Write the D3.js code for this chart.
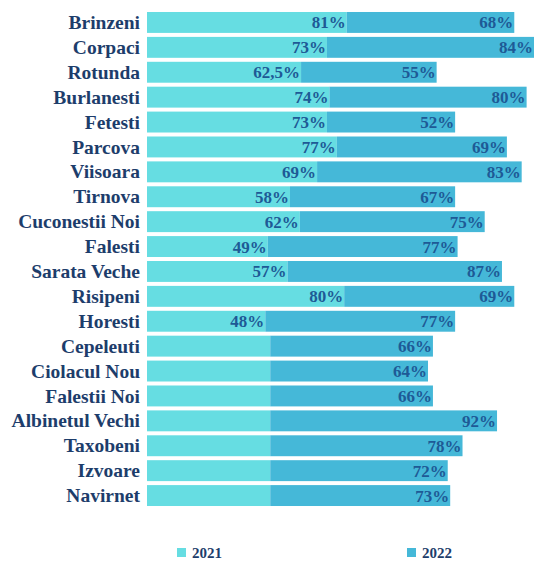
<!DOCTYPE html>
<html>
<head>
<meta charset="utf-8">
<script src="https://cdn.jsdelivr.net/npm/d3@7"></script>
<style>
  body { margin: 0; background: #fff; }
</style>
</head>
<body>
<script>
var villages = ["Brinzeni", "Corpaci", "Rotunda", "Burlanesti", "Fetesti", "Parcova", "Viisoara",
  "Tirnova", "Cuconestii Noi", "Falesti", "Sarata Veche", "Risipeni", "Horesti", "Cepeleuti",
  "Ciolacul Nou", "Falestii Noi", "Albinetul Vechi", "Taxobeni", "Izvoare", "Navirnet"];

// 2021 bar lengths (the last rows have no 2021 figure, the bar is drawn at 50 without a label)
var values2021 = [81, 73, 62.5, 74, 73, 77, 69, 58, 62, 49, 57, 80, 48, 50, 50, 50, 50, 50, 50, 50];
var labels2021 = ["81%", "73%", "62,5%", "74%", "73%", "77%", "69%", "58%", "62%", "49%", "57%",
  "80%", "48%", "", "", "", "", "", "", ""];
var values2022 = [68, 84, 55, 80, 52, 69, 83, 67, 75, 77, 87, 69, 77, 66, 64, 66, 92, 78, 72, 73];
var series = ["2021", "2022"];

var width = 535, height = 562,
    left = 147,
    colors = ["#66dde2", "#45b8d8"],
    serif = "'Liberation Serif'";

var svg = d3.select("body").append("svg")
    .attr("width", width)
    .attr("height", height);

var y = d3.scaleBand()
    .domain(villages)
    .range([10, 508])
    .paddingInner(0.16)
    .paddingOuter(0.08);

var x = d3.scaleLinear()
    .domain([0, 100])
    .range([left, left + 246.5]);

var rows = villages.map(function(v, i) {
  return {name: v, a: values2021[i], b: values2022[i], la: labels2021[i]};
});

var row = svg.selectAll("g.row")
    .data(rows)
    .enter()
    .append("g")
    .attr("class", "row");

row.append("rect")
    .attr("x", x(0))
    .attr("y", function(d) { return y(d.name); })
    .attr("width", function(d) { return x(d.a) - x(0); })
    .attr("height", y.bandwidth())
    .attr("fill", colors[0]);

row.append("rect")
    .attr("x", function(d) { return x(d.a); })
    .attr("y", function(d) { return y(d.name); })
    .attr("width", function(d) { return x(d.a + d.b) - x(d.a); })
    .attr("height", y.bandwidth())
    .attr("fill", colors[1]);

// category names
row.append("text")
    .attr("x", left - 7)
    .attr("y", function(d) { return y(d.name) + y.bandwidth() / 2; })
    .attr("dy", ".34em")
    .attr("text-anchor", "end")
    .style("font-family", serif)
    .style("font-weight", "bold")
    .style("font-size", "19.5px")
    .attr("fill", "#1d3d6b")
    .text(function(d) { return d.name; });

// value labels
row.append("text")
    .attr("x", function(d) { return x(d.a) - 1; })
    .attr("y", function(d) { return y(d.name) + y.bandwidth() / 2; })
    .attr("dy", ".35em")
    .attr("text-anchor", "end")
    .style("font-family", serif)
    .style("font-weight", "bold")
    .style("font-size", "17px")
    .attr("fill", "#1e5a96")
    .text(function(d) { return d.la; });

row.append("text")
    .attr("x", function(d) { return x(d.a + d.b) - 1; })
    .attr("y", function(d) { return y(d.name) + y.bandwidth() / 2; })
    .attr("dy", ".35em")
    .attr("text-anchor", "end")
    .style("font-family", serif)
    .style("font-weight", "bold")
    .style("font-size", "17px")
    .attr("fill", "#1e5a96")
    .text(function(d) { return d.b + "%"; });

// legend
var legendX = [177, 407];
var legend = svg.selectAll("g.legend")
    .data(series)
    .enter()
    .append("g")
    .attr("class", "legend")
    .attr("transform", function(d, i) { return "translate(" + legendX[i] + ",548)"; });

legend.append("rect")
    .attr("width", 9)
    .attr("height", 9)
    .attr("fill", function(d, i) { return colors[i]; });

legend.append("text")
    .attr("x", 15)
    .attr("y", 4.5)
    .attr("dy", ".35em")
    .style("font-family", serif)
    .style("font-weight", "bold")
    .style("font-size", "15px")
    .attr("fill", "#1d3d6b")
    .text(function(d) { return d; });
</script>
</body>
</html>
